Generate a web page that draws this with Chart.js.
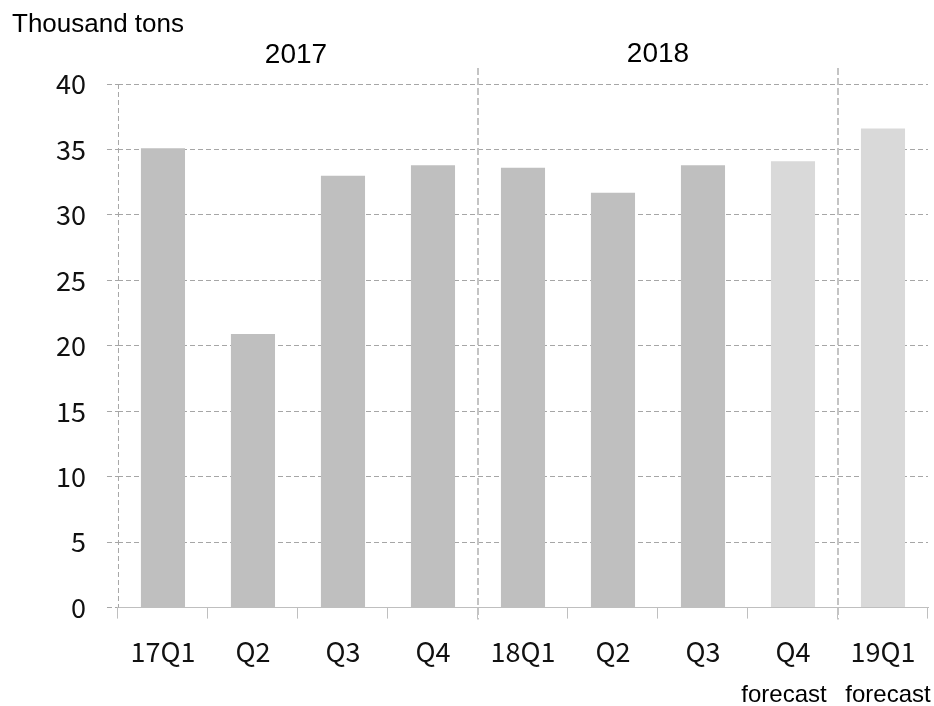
<!DOCTYPE html>
<html>
<head>
<meta charset="utf-8">
<script src="https://cdn.jsdelivr.net/npm/chart.js@4/dist/chart.umd.min.js"></script>
<style>
  html, body { margin: 0; padding: 0; background: #fff; }
  #wrap { width: 934px; height: 706px; position: relative; }
</style>
</head>
<body>
<div id="wrap"><canvas id="myChart" width="934" height="706"></canvas></div>
<script>
// quarterly volume, thousand tons
const quarters = ['17Q1', 'Q2', 'Q3', 'Q4', '18Q1', 'Q2', 'Q3', 'Q4', '19Q1']
const volume = [35.1, 20.9, 33.0, 33.8, 33.6, 31.7, 33.8, 34.1, 36.6]
const isForecast = [false, false, false, false, false, false, false, true, true]
const yTicks = [0, 5, 10, 15, 20, 25, 30, 35, 40]
// year groups: label, first and last category index
const years = ['2017', '2018']
const yearStart = [0, 4]
const yearEnd = [3, 7]
const unitLabel = 'Thousand tons'
const forecastNote = 'forecast'

const tickFont = { family: "'Noto Sans CJK KR', 'Noto Sans', sans-serif", size: 27 }

const extras = {
  id: 'extras',
  afterDraw(chart) {
    const ctx = chart.ctx
    const x = chart.scales.x
    const area = chart.chartArea
    const step = x.getPixelForValue(1) - x.getPixelForValue(0)

    ctx.save()
    // dashed y axis line
    ctx.strokeStyle = '#a6a6a6'
    ctx.lineWidth = 1
    ctx.setLineDash([5, 3])
    ctx.beginPath()
    ctx.moveTo(area.left + 0.5, area.top)
    ctx.lineTo(area.left + 0.5, area.bottom)
    ctx.stroke()

    // year separators
    ctx.strokeStyle = '#c4c4c4'
    ctx.lineWidth = 2
    ctx.setLineDash([7, 3])
    ;[yearEnd[0], yearEnd[1]].forEach(i => {
      const px = Math.round(x.getPixelForValue(i) + step / 2)
      ctx.beginPath()
      ctx.moveTo(px, area.top - 16)
      ctx.lineTo(px, area.bottom + 12)
      ctx.stroke()
    })
    ctx.setLineDash([])

    ctx.fillStyle = '#000'
    ctx.textBaseline = 'alphabetic'
    ctx.font = "26px 'Liberation Sans', Arial, sans-serif"
    ctx.textAlign = 'left'
    ctx.fillText(unitLabel, 12, 32)

    ctx.font = "28px 'Liberation Sans', Arial, sans-serif"
    ctx.textAlign = 'center'
    years.forEach((y, k) => {
      const cx = (x.getPixelForValue(yearStart[k]) + x.getPixelForValue(yearEnd[k])) / 2
      ctx.fillText(y, cx - (k == 0 ? 2 : 0), k == 0 ? 63 : 62)
    })

    ctx.font = "24px 'Liberation Sans', Arial, sans-serif"
    const nudge = [-9, 5]
    let n = 0
    isForecast.forEach((f, i) => {
      if (!f) return
      ctx.fillText(forecastNote, x.getPixelForValue(i) + nudge[n], 702)
      n++
    })
    ctx.restore()
  }
}

const ctx = document.getElementById('myChart')

new Chart(ctx, {
  type: 'bar',
  data: {
    labels: quarters,
    datasets: [{
      data: volume,
      backgroundColor: isForecast.map(f => f ? '#d9d9d9' : '#bfbfbf'),
      borderWidth: 0,
      barPercentage: 0.49,
      categoryPercentage: 1
    }]
  },
  options: {
    responsive: false,
    animation: false,
    layout: { padding: { left: 35, right: 6, top: 84, bottom: 21 } },
    plugins: {
      legend: { display: false },
      tooltip: { enabled: false }
    },
    scales: {
      x: {
        offset: true,
        grid: {
          offset: true,
          drawOnChartArea: false,
          drawTicks: true,
          tickLength: 11,
          color: '#bfbfbf'
        },
        border: { display: true, color: '#bfbfbf', width: 1 },
        ticks: { font: tickFont, color: '#111', padding: 17, maxRotation: 0, autoSkip: false }
      },
      y: {
        min: 0,
        max: 40,
        afterBuildTicks: axis => { axis.ticks = yTicks.map(v => ({ value: v })) },
        grid: {
          color: '#a6a6a6',
          tickLength: 11,
          tickBorderDash: [5, 3]
        },
        border: { display: false, dash: [5, 3] },
        ticks: { font: tickFont, color: '#111', padding: 21 }
      }
    }
  },
  plugins: [extras]
})
</script>
</body>
</html>
